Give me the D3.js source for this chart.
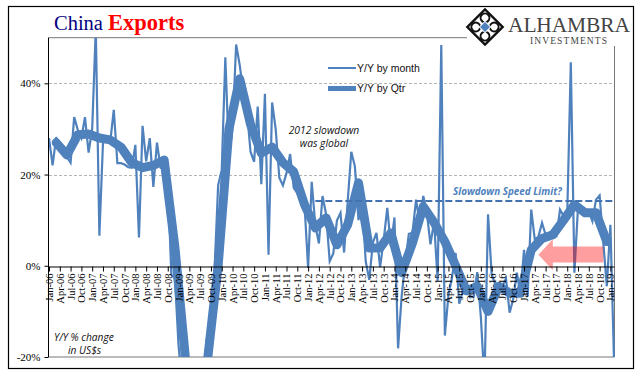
<!DOCTYPE html>
<html>
<head>
<meta charset="utf-8">
<script src="https://cdn.jsdelivr.net/npm/d3@7"></script>
<style>
  body { margin: 0; background: #fff; }
  svg { display: block; }
  .axis text { font-family: "Liberation Serif", serif; fill: #000; }
</style>
</head>
<body>
<div id="app"></div>
<script>
// data
var years = ['06','07','08','09','10','11','12','13','14','15','16','17','18','19'];
var monthNames = ['Jan','Feb','Mar','Apr','May','Jun','Jul','Aug','Sep','Oct','Nov','Dec'];

// one row per year, Jan-06 to Feb-19
var monthly = [
  28, 22, 28.2, 25.5, 25, 23.8, 22.6, 32.6, 29.8, 28, 32.6, 24.8,
  30, 52, 6.6, 27, 28, 27, 34.2, 22.5, 22.5, 22.2, 21.6, 21.5,
  26.5, 6.2, 30.7, 22.9, 28, 17.3, 27, 21.5, 21, 19, -2, -2.8,
  -17.5, -25.7, -17, -22.6, -26.4, -21, -23, -23.4, -15, -13.8, -1, 17.7,
  21, 45.7, 24, 30, 48.5, 44, 38, 34, 25, 22.8, 34.9, 17.9,
  37.7, 2.4, 35.8, 29.9, 19.3, 17.6, 20.3, 24.5, 17.1, 15.9, 13.8, 13.4,
  -0.5, 18.4, 8.9, 4.9, 15.3, 11.3, 1, 2.7, 9.9, 11.6, 2.9, 14.1,
  25, 21.8, 10, 14.7, 1, -3.1, 5.1, 7.2, -0.3, 5.6, 12.7, 4.3,
  10.6, -18.1, -6.6, 0.9, 7, 7.2, 14.5, 9.4, 15.3, 11.6, 4.7, 9.7,
  -3.3, 48.4, -15.3, -6.4, -2.5, 2.8, -8.3, -5.5, -3.7, -6.9, -6.8, -1.4,
  -11.2, -25.4, 11.3, -1.8, -4.1, -4.8, -4.4, -2.8, -10.3, -7.3, -1.5, -6.1,
  3.5, -6.7, 12.3, 5.7, 6.4, 9.4, 6.8, 6, 6.5, 6.5, 12.3, 10.9,
  11, 44.6, -1.5, 12.9, 12.5, 11.3, 12, 9.8, 14.5, 15.4, 5.4, -4.5,
  9, -20.7
];

// quarterly line, the points sit on the last month of each quarter (Mar-06 to Dec-18)
var quarterly = [
  27, 24.3, 28.7, 28.9,
  28, 27.6, 26, 22.6,
  21.5, 22, 23.2, 4,
  -21, -24, -21, 0,
  30, 41, 31, 24.7,
  26, 22.6, 20.6, 13.4,
  8.3, 10.5, 4.6, 9,
  18.2, 3.9, 3.9, 7.2,
  -1.5, 5, 13, 9.5,
  5.3, 0, -5.5, -4.5,
  -10, -4.5, -6, -6,
  3.5, 6, 6.8, 10,
  13.4, 11.6, 11.6, 5.3
];

var speedLimit = 14.2;
var yTicks = [-20, 0, 20, 40];
var gridTicks = [20, 40];

// build month names, only as many as we have values for
var months = [];
years.forEach(function(yr) {
  monthNames.forEach(function(m) {
    if (months.length < monthly.length) months.push(m + '-' + yr);
  });
});
var quarterMonths = months.filter(function(d, i) { return i % 3 === 0; });
var quarterEnds = quarterly.map(function(d, i) { return months[i * 3 + 2]; });

var width = 641, height = 383;
var blue = '#4f81bd';

var svg = d3.select('#app').append('svg')
  .attr('width', width)
  .attr('height', height);

// scales
var x = d3.scalePoint().domain(months).range([49, 614]);
var y = d3.scaleLinear().domain([-20, 50]).range([357, 37.7]);

svg.append('defs').append('clipPath').attr('id', 'plot')
  .append('rect')
  .attr('x', 40).attr('width', 580)
  .attr('y', y(50)).attr('height', y(-20) - y(50));

// outer frame
svg.append('rect')
  .attr('x', 8.5).attr('y', 6.5)
  .attr('width', 625).attr('height', 362)
  .attr('fill', 'none').attr('stroke', '#000').attr('stroke-width', 1.2);

// plot borders
svg.append('path')
  .attr('d', 'M48.5,' + y(50) + 'H467')
  .attr('stroke', '#777').attr('fill', 'none');
svg.append('path')
  .attr('d', 'M614.5,46V' + y(-20) + 'H48.5')
  .attr('stroke', '#777').attr('fill', 'none');

// gridlines
svg.selectAll('.grid').data(gridTicks).join('line')
  .attr('class', 'grid')
  .attr('x1', 49).attr('x2', 614)
  .attr('y1', function(d) { return Math.round(y(d)) + 0.5; })
  .attr('y2', function(d) { return Math.round(y(d)) + 0.5; })
  .attr('stroke', '#b5b5b5')
  .attr('stroke-dasharray', '3 2');

// series
var lineMonthly = d3.line()
  .x(function(d, i) { return x(months[i]); })
  .y(function(d) { return y(d); });
var lineQuarterly = d3.line()
  .x(function(d, i) { return x(quarterEnds[i]); })
  .y(function(d) { return y(d); });

var series = svg.append('g').attr('clip-path', 'url(#plot)');
series.append('path')
  .datum(monthly)
  .attr('d', lineMonthly)
  .attr('fill', 'none')
  .attr('stroke', blue)
  .attr('stroke-width', 2.2);
series.append('path')
  .datum(quarterly)
  .attr('d', lineQuarterly)
  .attr('fill', 'none')
  .attr('stroke', blue)
  .attr('stroke-width', 9)
  .attr('stroke-linejoin', 'round')
  .attr('stroke-linecap', 'round');

// speed limit
svg.append('line')
  .attr('x1', x('Mar-12')).attr('x2', 615)
  .attr('y1', y(speedLimit)).attr('y2', y(speedLimit))
  .attr('stroke', '#4472b0')
  .attr('stroke-width', 2)
  .attr('stroke-dasharray', '7 3');

// pink arrow, in chart units so it stays with the data
var arrow = d3.line()
  .x(function(d) { return x(d[0]); })
  .y(function(d) { return y(d[1]); });
svg.append('path')
  .attr('d', arrow([
    ['May-17', 2.4], ['Sep-17', 5.8], ['Sep-17', 4.2], ['Nov-18', 4.2],
    ['Nov-18', 0.7], ['Sep-17', 0.7], ['Sep-17', -1]
  ]) + 'Z')
  .attr('fill', '#ff0000')
  .attr('fill-opacity', 0.38);

// axes
var yAxis = svg.append('g')
  .attr('class', 'axis')
  .attr('transform', 'translate(48.5,0)')
  .call(d3.axisLeft(y).tickValues(yTicks)
    .tickFormat(function(d) { return d + '%'; })
    .tickSize(4).tickPadding(4));
yAxis.select('.domain').attr('d', 'M0,' + y(50) + 'V' + y(-20));
yAxis.selectAll('text').style('font-size', '11px');
yAxis.selectAll('.domain, line').attr('stroke', '#000');

var xAxis = svg.append('g')
  .attr('class', 'axis')
  .attr('transform', 'translate(0,' + (Math.round(y(0)) + 0.5) + ')')
  .call(d3.axisBottom(x).tickValues(quarterMonths)
    .tickSize(5).tickSizeOuter(0));
xAxis.selectAll('text')
  .style('font-size', '10.5px')
  .style('text-anchor', 'end')
  .attr('transform', 'rotate(-90)')
  .attr('x', -7)
  .attr('y', 0)
  .attr('dy', '0.33em');
xAxis.selectAll('.domain, line').attr('stroke', '#000');

// title
var title = svg.append('text')
  .attr('x', 54).attr('y', 30)
  .style('font-family', '"Liberation Serif", serif');
title.append('tspan')
  .style('font-size', '20.5px')
  .attr('fill', '#000080')
  .text('China ');
title.append('tspan')
  .style('font-size', '22.5px')
  .style('font-weight', 'bold')
  .attr('fill', '#ff0000')
  .text('Exports');

// legend
var legend = [
  { label: 'Y/Y by month', sw: 2, yy: 68, ty: 71.5 },
  { label: 'Y/Y by Qtr', sw: 5, yy: 88.5, ty: 92 }
];
legend.forEach(function(l) {
  svg.append('line')
    .attr('x1', 328).attr('x2', 356)
    .attr('y1', l.yy).attr('y2', l.yy)
    .attr('stroke', blue).attr('stroke-width', l.sw);
  svg.append('text')
    .attr('x', 357).attr('y', l.ty)
    .style('font-family', '"Liberation Sans", sans-serif')
    .style('font-size', '10.5px')
    .attr('fill', '#111')
    .text(l.label);
});

// notes
function note(str, px, py, anchor, weight, color, size) {
  svg.append('text')
    .attr('x', px).attr('y', py)
    .attr('text-anchor', anchor)
    .style('font-family', '"Open Sans", sans-serif')
    .style('font-style', 'italic')
    .style('font-weight', weight)
    .style('font-size', size + 'px')
    .attr('fill', color)
    .text(str);
}
note('2012 slowdown', 324, 134, 'middle', 'normal', '#111', 10.3);
note('was global', 324, 147, 'middle', 'normal', '#111', 10.3);
note('Y/Y % change', 54, 341, 'start', 'normal', '#111', 10.2);
note('in US$s', 68, 354, 'start', 'normal', '#111', 10.2);
note('Slowdown Speed Limit?', 453, 195, 'start', 'bold', '#4f81bd', 9.9);

// logo
var logo = svg.append('g').attr('transform', 'translate(485,27) rotate(45)');
logo.append('rect')
  .attr('x', -12.5).attr('y', -12.5).attr('width', 25).attr('height', 25)
  .attr('fill', '#fff').attr('stroke', '#111').attr('stroke-width', 2.4);
[-6.5, 6.5].forEach(function(a) {
  [-6.5, 6.5].forEach(function(b) {
    logo.append('circle')
      .attr('cx', a).attr('cy', b).attr('r', 4.4)
      .attr('fill', '#fff').attr('stroke', '#111').attr('stroke-width', 2);
  });
});
logo.append('rect')
  .attr('x', -4).attr('y', -4).attr('width', 8).attr('height', 8)
  .attr('fill', blue).attr('stroke', '#fff').attr('stroke-width', 1);

svg.append('text')
  .attr('x', 508).attr('y', 32)
  .style('font-family', '"Liberation Serif", serif')
  .style('font-size', '21.5px')
  .attr('textLength', 122)
  .attr('fill', '#444')
  .text('ALHAMBRA');
svg.append('text')
  .attr('x', 530).attr('y', 44)
  .style('font-family', '"Liberation Serif", serif')
  .style('font-size', '9.5px')
  .attr('textLength', 77)
  .attr('fill', '#444')
  .text('INVESTMENTS');
</script>
</body>
</html>
